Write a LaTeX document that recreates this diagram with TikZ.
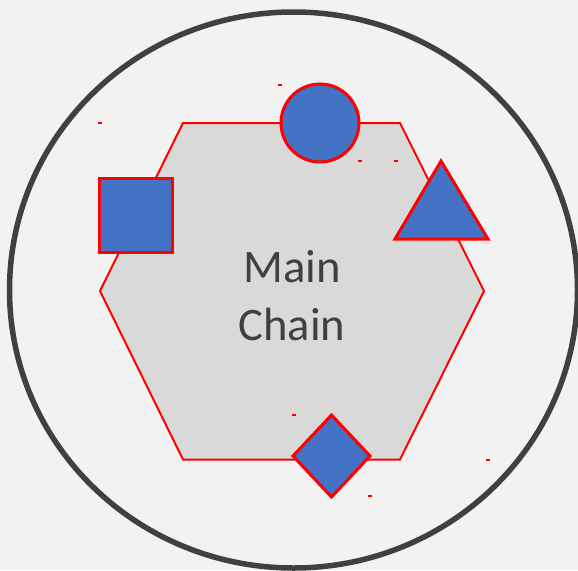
\documentclass[tikz,border=0pt]{standalone}
\usepackage{fontspec}
\setmainfont{Carlito}
\usetikzlibrary{positioning}
\definecolor{bggray}{HTML}{F2F2F2}
\definecolor{hexgray}{HTML}{D9D9D9}
\definecolor{ringgray}{HTML}{404040}
\definecolor{sideblue}{HTML}{4472C4}
\definecolor{bondred}{HTML}{FF0000}
\begin{document}
\begin{tikzpicture}[x=1pt,y=-1pt,
  side/.style={fill=sideblue,draw=bondred,line width=3pt,line join=miter},
  handle/.style={fill=bondred},
  label/.style={text=ringgray,anchor=base,inner sep=0pt,font=\fontsize{46.6}{57}\selectfont}]
% canvas
\fill[bggray] (0,0) rectangle (578,570);
\useasboundingbox (0,0) rectangle (578,570);
% outer ring
\draw[ringgray,line width=5.5pt] (293.5,290) ellipse [x radius=284pt,y radius=278pt];
% main chain hexagon
\draw[fill=hexgray,draw=bondred,line width=2pt,line join=miter]
  (183,123) -- (400,123) -- (484,291) -- (400,459.5) -- (183,459.5) -- (100,291) -- cycle;
\node[label] (main) at (292,282) {Main};
\node[label] (chain) at (292,340) {Chain};
% side groups
\draw[side] (320,123) circle (39pt);
\draw[side] (99,178) rectangle (172,252);
\draw[side] (441,161) -- (488,239) -- (395,239) -- cycle;
\draw[side] (331.5,415) -- (370,456) -- (331.5,497) -- (293,456) -- cycle;
% selection handles
\foreach \x/\y in {100/123, 280/85, 360/161, 396/161, 294/415, 370/496, 488/460}{
  \fill[handle] (\x-1.6,\y-1.3) rectangle (\x+1.6,\y+1.3);
}
\end{tikzpicture}
\end{document}
